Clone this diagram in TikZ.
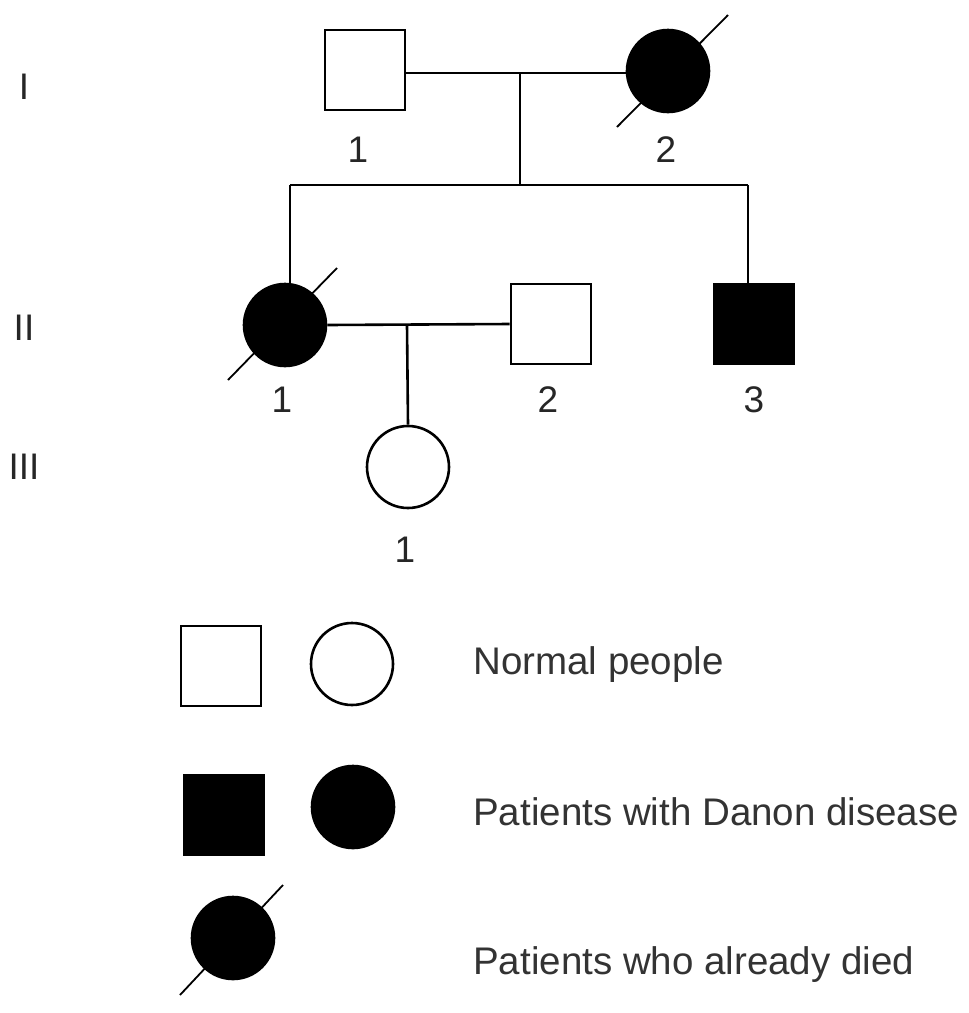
\documentclass[tikz,border=0pt]{standalone}
\usepackage{fontspec}
\setmainfont{Liberation Sans}
\begin{document}
\begin{tikzpicture}[x=1pt,y=-1pt,
  line width=2.6pt,
  male/.style={draw,rectangle,minimum width=80pt,minimum height=80pt,inner sep=0pt,fill=white},
  female/.style={draw,circle,minimum size=82pt,inner sep=0pt,fill=white},
  aff/.style={fill=black},
  slash/.style={line width=1.8pt},
  lbl/.style={font=\fontsize{37}{40}\selectfont,text=black!85,inner sep=0pt},
  legtxt/.style={font=\fontsize{38.5}{42}\selectfont,text=black!80,inner sep=0pt,anchor=west}]
\useasboundingbox (0,0) rectangle (969,1013);
% generation labels
\node[lbl] (gI) at (24,87) {I};
\node[lbl] (gII) at (24,328) {II};
\node[lbl] (gIII) at (24,467) {III};
% generation I
\node[male] (I1) at (365,70) {};
\node[female,aff] (I2) at (668,71) {};
\coordinate (I2a) at (617,127);
\coordinate (I2b) at (728,15);
\draw[slash] (I2a) -- (I2b);
\node[lbl] (lI1) at (358,150) {1};
\node[lbl] (lI2) at (666,150) {2};
\coordinate (mI) at (520,73);
\coordinate (sL) at (290,185);
\coordinate (sM) at (520,185);
\coordinate (sR) at (748,185);
\draw (I1.east |- mI) -- (I2.west |- mI);
\draw (mI) -- (sM);
\draw (sL) -- (sR);
% generation II
\node[female,aff] (II1) at (285,325) {};
\coordinate (II1a) at (228,380);
\coordinate (II1b) at (337,268);
\draw[slash] (II1a) -- (II1b);
\node[male] (II2) at (551,324) {};
\node[male,aff] (II3) at (754,324) {};
\draw (sL) -- (sL |- II1.north);
\draw (sR) -- (sR |- II3.north);
\coordinate (mII) at (407,325);
\draw (II1.east) -- (II2.west);
\node[lbl] (lII1) at (282,400) {1};
\node[lbl] (lII2) at (548,400) {2};
\node[lbl] (lII3) at (754,400) {3};
% generation III
\node[female] (III1) at (408,467) {};
\draw (mII) -- (III1.north);
\node[lbl] (lIII1) at (405,550) {1};
% legend
\node[male] (Lm) at (221,666) {};
\node[female] (Lf) at (352,664) {};
\node[legtxt] (Ln) at (472,665) {Normal people};
\node[male,aff] (Lma) at (224,815) {};
\node[female,aff] (Lfa) at (353,807) {};
\node[legtxt] (Lp) at (472,812) {Patients with Danon disease};
\node[female,aff] (Ld) at (233,938) {};
\coordinate (Lda) at (180,995);
\coordinate (Ldb) at (283,885);
\draw[slash] (Lda) -- (Ldb);
\node[legtxt] (Lx) at (472,965) {Patients who already died};
\end{tikzpicture}
\end{document}
